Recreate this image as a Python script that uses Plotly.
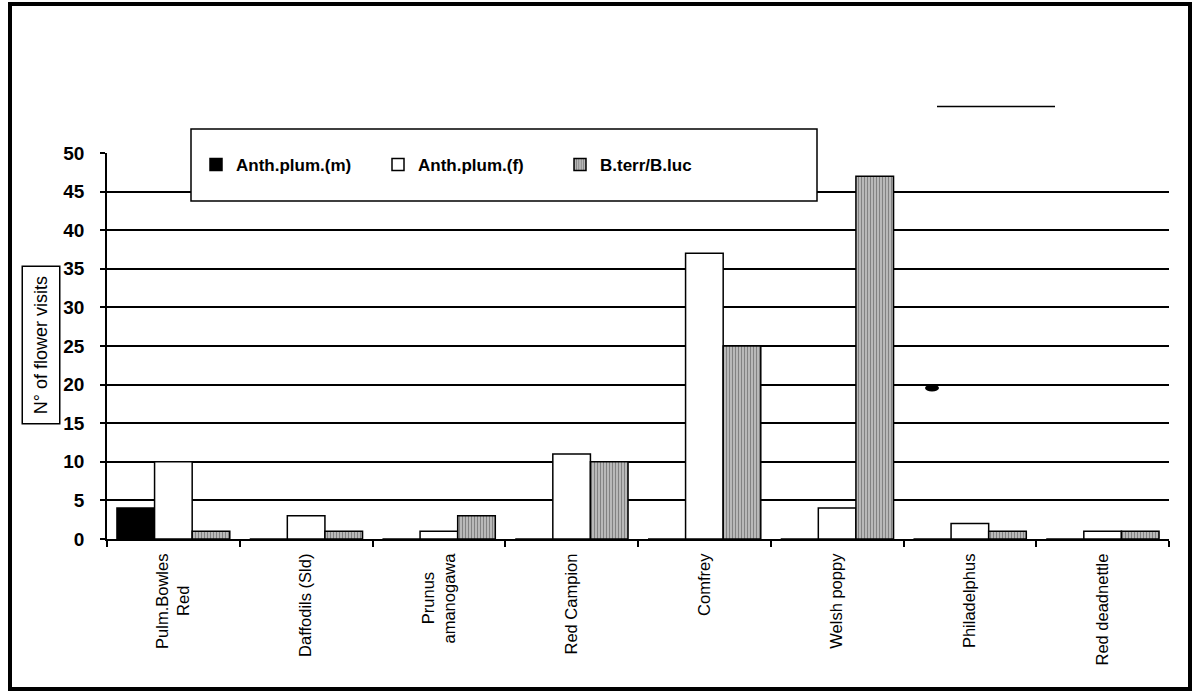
import plotly.graph_objects as go

# Flower visits per plant species, split by visitor group
plants = ["Pulm.Bowles Red", "Daffodils (Sld)", "Prunus amanogawa", "Red Campion",
          "Comfrey", "Welsh poppy", "Philadelphus", "Red deadnettle"]
# axis labels: two-line names, the shorter line padded so it sits centred
plant_labels = ["Pulm.Bowles<br>Red" + "\u00a0" * 7, "Daffodils (Sld)",
                "Prunus" + "\u00a0" * 4 + "<br>amanogawa", "Red Campion",
                "Comfrey", "Welsh poppy", "Philadelphus", "Red deadnettle"]
anth_male = [4, 0, 0, 0, 0, 0, 0, 0]
anth_female = [10, 3, 1, 11, 37, 4, 2, 1]
bombus = [1, 1, 3, 10, 25, 47, 1, 1]

series_names = ["Anth.plum.(m)", "Anth.plum.(f)", "B.terr/B.luc"]
y_ticks = list(range(0, 55, 5))

FONT = "Liberation Sans, Arial, Helvetica, sans-serif"

# plot-area geometry in pixels, used to place paper-referenced decorations
W, H = 1193, 694
L, R, T, B = 107, 1169, 153, 539


def px(x):
    return (x - L) / (R - L)


def py(y):
    return (B - y) / (B - T)


fig = go.Figure()
fig.add_trace(go.Bar(
    x=plants, y=anth_male, name=series_names[0],
    marker=dict(color="#000000", line=dict(color="#000000", width=1.5)),
))
fig.add_trace(go.Bar(
    x=plants, y=anth_female, name=series_names[1],
    marker=dict(color="#ffffff", line=dict(color="#000000", width=1.5)),
))
fig.add_trace(go.Bar(
    x=plants, y=bombus, name=series_names[2],
    marker=dict(color="#a0a0a0", line=dict(color="#000000", width=1.5),
                pattern=dict(shape="|", fgcolor="#404040", bgcolor="#c4c4c4",
                             size=3, solidity=0.45)),
))

shapes = [
    # legend frame (covers the gridlines behind it)
    dict(type="rect", xref="paper", yref="paper", layer="above",
         x0=px(191), x1=px(817), y0=py(201), y1=py(129),
         fillcolor="#ffffff", line=dict(color="#000000", width=1.5)),
    # outer chart frame
    dict(type="rect", xref="paper", yref="paper",
         x0=px(10), x1=px(1190), y0=py(689), y1=py(4),
         line=dict(color="#000000", width=4)),
    # stray stroke at top right
    dict(type="line", xref="paper", yref="paper",
         x0=px(937), x1=px(1055), y0=py(106.5), y1=py(106.5),
         line=dict(color="#000000", width=1.5)),
    # ink blot near the 20 gridline
    dict(type="circle", xref="paper", yref="paper", layer="above",
         x0=px(925), x1=px(939), y0=py(391.5), y1=py(384.5),
         fillcolor="#000000", line=dict(color="#000000", width=0)),
]

annotations = [
    dict(text="N° of flower visits", textangle=-90, xref="paper", yref="paper",
         x=px(41), y=py(345.5), xanchor="center", yanchor="middle", showarrow=False,
         font=dict(family=FONT, size=18, color="#000000"),
         width=150, height=30, borderpad=3, bordercolor="#000000", borderwidth=1.5,
         bgcolor="#ffffff"),
]

fig.update_layout(
    width=W, height=H,
    margin=dict(l=L, r=W - R, t=T, b=H - B, pad=0),
    paper_bgcolor="#ffffff", plot_bgcolor="#ffffff",
    barmode="group", bargap=0.15, bargroupgap=0,
    showlegend=True,
    legend=dict(orientation="h", x=px(196), y=py(165), xanchor="left", yanchor="middle",
                bgcolor="rgba(0,0,0,0)", borderwidth=0,
                entrywidth=137, entrywidthmode="pixels",
                font=dict(family=FONT, size=17, color="#000000", weight="bold")),
    shapes=shapes,
    annotations=annotations,
    xaxis=dict(
        type="category", tickmode="array", tickvals=plants, ticktext=plant_labels,
        showline=True, linecolor="#000000", linewidth=2, mirror=False,
        ticks="outside", tickson="boundaries", ticklen=6, tickwidth=1.5, tickcolor="#000000",
        tickangle=-90, showgrid=False, ticklabelstandoff=6,
        tickfont=dict(family=FONT, size=16.5, color="#000000"),
    ),
    yaxis=dict(
        range=[0, 50], tickvals=y_ticks, ticktext=[str(v) for v in y_ticks],
        showline=True, linecolor="#000000", linewidth=1.5,
        showgrid=True, gridcolor="#000000", gridwidth=1.8, zeroline=False,
        ticks="outside", ticklen=5, tickwidth=1.5, tickcolor="#000000",
        ticklabelstandoff=12,
        tickfont=dict(family=FONT, size=19, color="#000000", weight="bold"),
    ),
)

fig.write_html("out.html")
